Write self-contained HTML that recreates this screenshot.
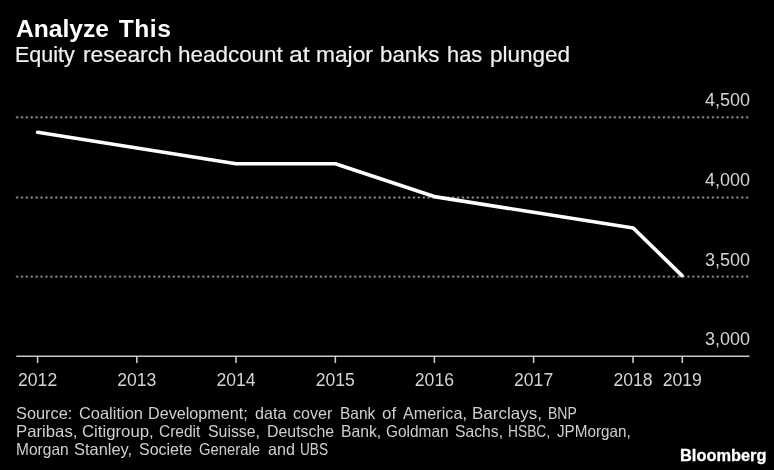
<!DOCTYPE html>
<html>
<head>
<meta charset="utf-8">
<style>
html,body{margin:0;padding:0;background:#000;}
body{filter:grayscale(1);width:774px;height:470px;position:relative;overflow:hidden;font-family:"Liberation Sans",sans-serif;color:#fff;}
.t{position:absolute;white-space:nowrap;line-height:1;transform-origin:0 0;}
#title{left:15.6px;top:17.63px;font-size:23px;font-weight:bold;color:#fff;transform:scaleX(1.07);word-spacing:2.6px;}
.sb{top:43.5px;font-size:22px;color:#f0f0f0;-webkit-text-stroke:0.2px #f0f0f0;}
.yl{font-size:18.3px;color:#d4d4d4;left:704.6px;transform:scaleX(0.985);}
.xl{font-size:17.6px;color:#d4d4d4;top:372.1px;margin-left:-19.57px;}
.src{font-size:16.5px;color:#cfcfcf;}
#bb{left:679.5px;top:447.2px;font-size:16.5px;font-weight:bold;color:#fff;transform:scaleX(0.993);-webkit-text-stroke:0.3px #fff;}
svg{position:absolute;left:0;top:0;}
</style>
</head>
<body>
<svg width="774" height="470" viewBox="0 0 774 470">
  <g stroke="#303030" stroke-width="3.2" stroke-dasharray="0.01 4.89" stroke-linecap="round" fill="none">
    <line x1="17.1" y1="117.3" x2="749.5" y2="117.3"/>
    <line x1="17.1" y1="197.5" x2="749.5" y2="197.5"/>
    <line x1="17.1" y1="276.6" x2="749.5" y2="276.6"/>
  </g>
  <g stroke="#8e8e8e" stroke-width="1.9" stroke-dasharray="0.01 4.89" stroke-linecap="round" fill="none">
    <line x1="17.1" y1="117.3" x2="749.5" y2="117.3"/>
    <line x1="17.1" y1="197.5" x2="749.5" y2="197.5"/>
    <line x1="17.1" y1="276.6" x2="749.5" y2="276.6"/>
  </g>
  <g stroke="#c8c8c8" stroke-width="1.6" fill="none">
    <line x1="16.3" y1="356.3" x2="749.5" y2="356.3"/>
    <path d="M37.6 356v7M136.8 356v7M236 356v7M335.3 356v7M434.4 356v7M533.6 356v7M633 356v7M682.3 356v7"/>
  </g>
  <polyline fill="none" stroke="#fff" stroke-width="3.65" stroke-linecap="round" stroke-linejoin="round"
    points="37.6,132.3 136.8,148 236,163.7 335.3,163.7 434.2,196.6 533.5,212.3 633.2,228 682,275.6"/>
</svg>
<div class="t" id="title">Analyze <span style="letter-spacing:0.5px">This</span></div>
<div class="t sb" style="left:14.99px;transform:scaleX(0.9789)">Equity</div>
<div class="t sb" style="left:82.74px;transform:scaleX(1.0369)">research</div>
<div class="t sb" style="left:178.17px;transform:scaleX(1.0198)">headcount</div>
<div class="t sb" style="left:288.87px;transform:scaleX(1.1304)">at</div>
<div class="t sb" style="left:316.25px;transform:scaleX(1.0347)">major</div>
<div class="t sb" style="left:379.78px;transform:scaleX(1.0124)">banks</div>
<div class="t sb" style="left:447.01px;transform:scaleX(0.9925)">has</div>
<div class="t sb" style="left:489.57px;transform:scaleX(1.0225)">plunged</div>
<div class="t yl" style="top:91.2px">4,500</div>
<div class="t yl" style="top:171.4px">4,000</div>
<div class="t yl" style="top:250.5px">3,500</div>
<div class="t yl" style="top:330.2px">3,000</div>
<div class="t xl" style="left:37.6px">2012</div>
<div class="t xl" style="left:136.8px">2013</div>
<div class="t xl" style="left:236px">2014</div>
<div class="t xl" style="left:335.3px">2015</div>
<div class="t xl" style="left:434.4px">2016</div>
<div class="t xl" style="left:533.6px">2017</div>
<div class="t xl" style="left:633px">2018</div>
<div class="t xl" style="left:682.3px">2019</div>
<div class="t src" style="left:15.86px;top:404.83px;transform:scaleX(0.9908)">Source:</div>
<div class="t src" style="left:78.75px;top:404.83px;transform:scaleX(0.9952)">Coalition</div>
<div class="t src" style="left:147.78px;top:404.83px;transform:scaleX(0.9793)">Development;</div>
<div class="t src" style="left:254.97px;top:404.83px;transform:scaleX(0.9778)">data</div>
<div class="t src" style="left:292.97px;top:404.83px;transform:scaleX(0.9747)">cover</div>
<div class="t src" style="left:339.93px;top:404.83px;transform:scaleX(0.9379)">Bank</div>
<div class="t src" style="left:381.83px;top:404.83px;transform:scaleX(1.0231)">of</div>
<div class="t src" style="left:403.0px;top:404.83px;transform:scaleX(0.982)">America,</div>
<div class="t src" style="left:472.41px;top:404.83px;transform:scaleX(1.0314)">Barclays,</div>
<div class="t src" style="left:548.04px;top:404.83px;transform:scaleX(0.8472)">BNP</div>
<div class="t src" style="left:15.73px;top:422.93px;transform:scaleX(1.0147)">Paribas,</div>
<div class="t src" style="left:81.74px;top:422.93px;transform:scaleX(1.0161)">Citigroup,</div>
<div class="t src" style="left:159.3px;top:422.93px;transform:scaleX(0.9387)">Credit</div>
<div class="t src" style="left:208.38px;top:422.93px;transform:scaleX(0.9615)">Suisse,</div>
<div class="t src" style="left:267.1px;top:422.93px;transform:scaleX(0.9638)">Deutsche</div>
<div class="t src" style="left:340.51px;top:422.93px;transform:scaleX(0.9519)">Bank,</div>
<div class="t src" style="left:385.9px;top:422.93px;transform:scaleX(0.9349)">Goldman</div>
<div class="t src" style="left:454.98px;top:422.93px;transform:scaleX(0.9534)">Sachs,</div>
<div class="t src" style="left:508.26px;top:422.93px;transform:scaleX(0.8356)">HSBC,</div>
<div class="t src" style="left:556.87px;top:422.93px;transform:scaleX(0.9231)">JPMorgan,</div>
<div class="t src" style="left:15.82px;top:441.03px;transform:scaleX(0.9414)">Morgan</div>
<div class="t src" style="left:74.35px;top:441.03px;transform:scaleX(0.9956)">Stanley,</div>
<div class="t src" style="left:138.58px;top:441.03px;transform:scaleX(0.9664)">Societe</div>
<div class="t src" style="left:198.83px;top:441.03px;transform:scaleX(0.8992)">Generale</div>
<div class="t src" style="left:268.27px;top:441.03px;transform:scaleX(0.9786)">and</div>
<div class="t src" style="left:300.06px;top:441.03px;transform:scaleX(0.8281)">UBS</div>
<div class="t" id="bb">Bloomberg</div>
</body>
</html>
